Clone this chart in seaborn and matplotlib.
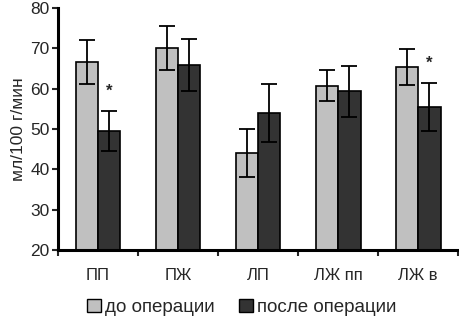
import matplotlib
matplotlib.use("Agg")
import matplotlib.pyplot as plt
import seaborn as sns
import pandas as pd
import numpy as np
from matplotlib.patches import Patch

categories = ["ПП", "ПЖ", "ЛП", "ЛЖ пп", "ЛЖ в"]
groups = ["до операции", "после операции"]
before_vals = [66.6, 70.1, 44.0, 60.7, 65.4]
before_err = [5.4, 5.5, 6.0, 3.9, 4.5]
after_vals = [49.5, 65.9, 54.0, 59.3, 55.4]
after_err = [5.0, 6.4, 7.2, 6.3, 6.0]
star_flags = [True, False, False, False, True]
colors = ["#c0c0c0", "#333333"]

sns.set_style("white")
plt.rcParams["font.family"] = ["Liberation Sans", "DejaVu Sans"]

df = pd.DataFrame({
    "cat": categories * 2,
    "grp": [groups[0]] * 5 + [groups[1]] * 5,
    "val": before_vals + after_vals,
    "err": before_err + after_err,
})

fig = plt.figure(figsize=(4.6, 3.16), dpi=100)
ax = fig.add_axes([0.126, 0.209, 0.87, 0.766])

sns.barplot(data=df, x="cat", y="val", hue="grp", order=categories,
            hue_order=groups, palette=colors, width=0.56, errorbar=None,
            edgecolor="black", linewidth=1.2, ax=ax, legend=False)

# error bars at bar centres
for gi, (vals, errs) in enumerate([(before_vals, before_err), (after_vals, after_err)]):
    cont = ax.containers[gi]
    xs = [p.get_x() + p.get_width() / 2 for p in cont.patches]
    ax.errorbar(xs, vals, yerr=errs, fmt="none", ecolor="black",
                elinewidth=1.3, capsize=5.5, capthick=1.3, zorder=5)

# significance stars
after_cont = ax.containers[1]
for i, flag in enumerate(star_flags):
    if flag:
        p = after_cont.patches[i]
        ax.text(p.get_x() + p.get_width() / 2, after_vals[i] + after_err[i] + 4.8,
                "*", ha="center", va="center", fontsize=12, fontweight="bold")

ax.set_ylim(20, 80)
ax.set_xlim(-0.5, 4.5)
ax.set_yticks([20, 30, 40, 50, 60, 70, 80])
ax.set_xlabel("")
ax.set_ylabel("мл/100 г/мин", fontsize=12.5, labelpad=3)
ax.tick_params(axis="y", labelsize=12.5, length=4, width=1.5, direction="out", left=True, pad=2)
ax.tick_params(axis="x", which="major", labelsize=12, length=0, pad=13)
ax.set_xticks(np.arange(-0.5, 5.0, 1.0), minor=True)
ax.tick_params(axis="x", which="minor", length=4, width=1.5, direction="out", bottom=True)
for s in ["top", "right"]:
    ax.spines[s].set_visible(False)
for s in ["left", "bottom"]:
    ax.spines[s].set_linewidth(2.2)
    ax.spines[s].set_color("black")

handles = [Patch(facecolor=c, edgecolor="black", linewidth=1.0) for c in colors]
fig.legend(handles, groups, loc="center", bbox_to_anchor=(0.525, 0.027), ncol=2,
           frameon=False, fontsize=13.5, handlelength=0.75, handleheight=0.75,
           handletextpad=0.2, columnspacing=1.3, borderaxespad=0, borderpad=0)

fig.savefig("out.png", dpi=100)
